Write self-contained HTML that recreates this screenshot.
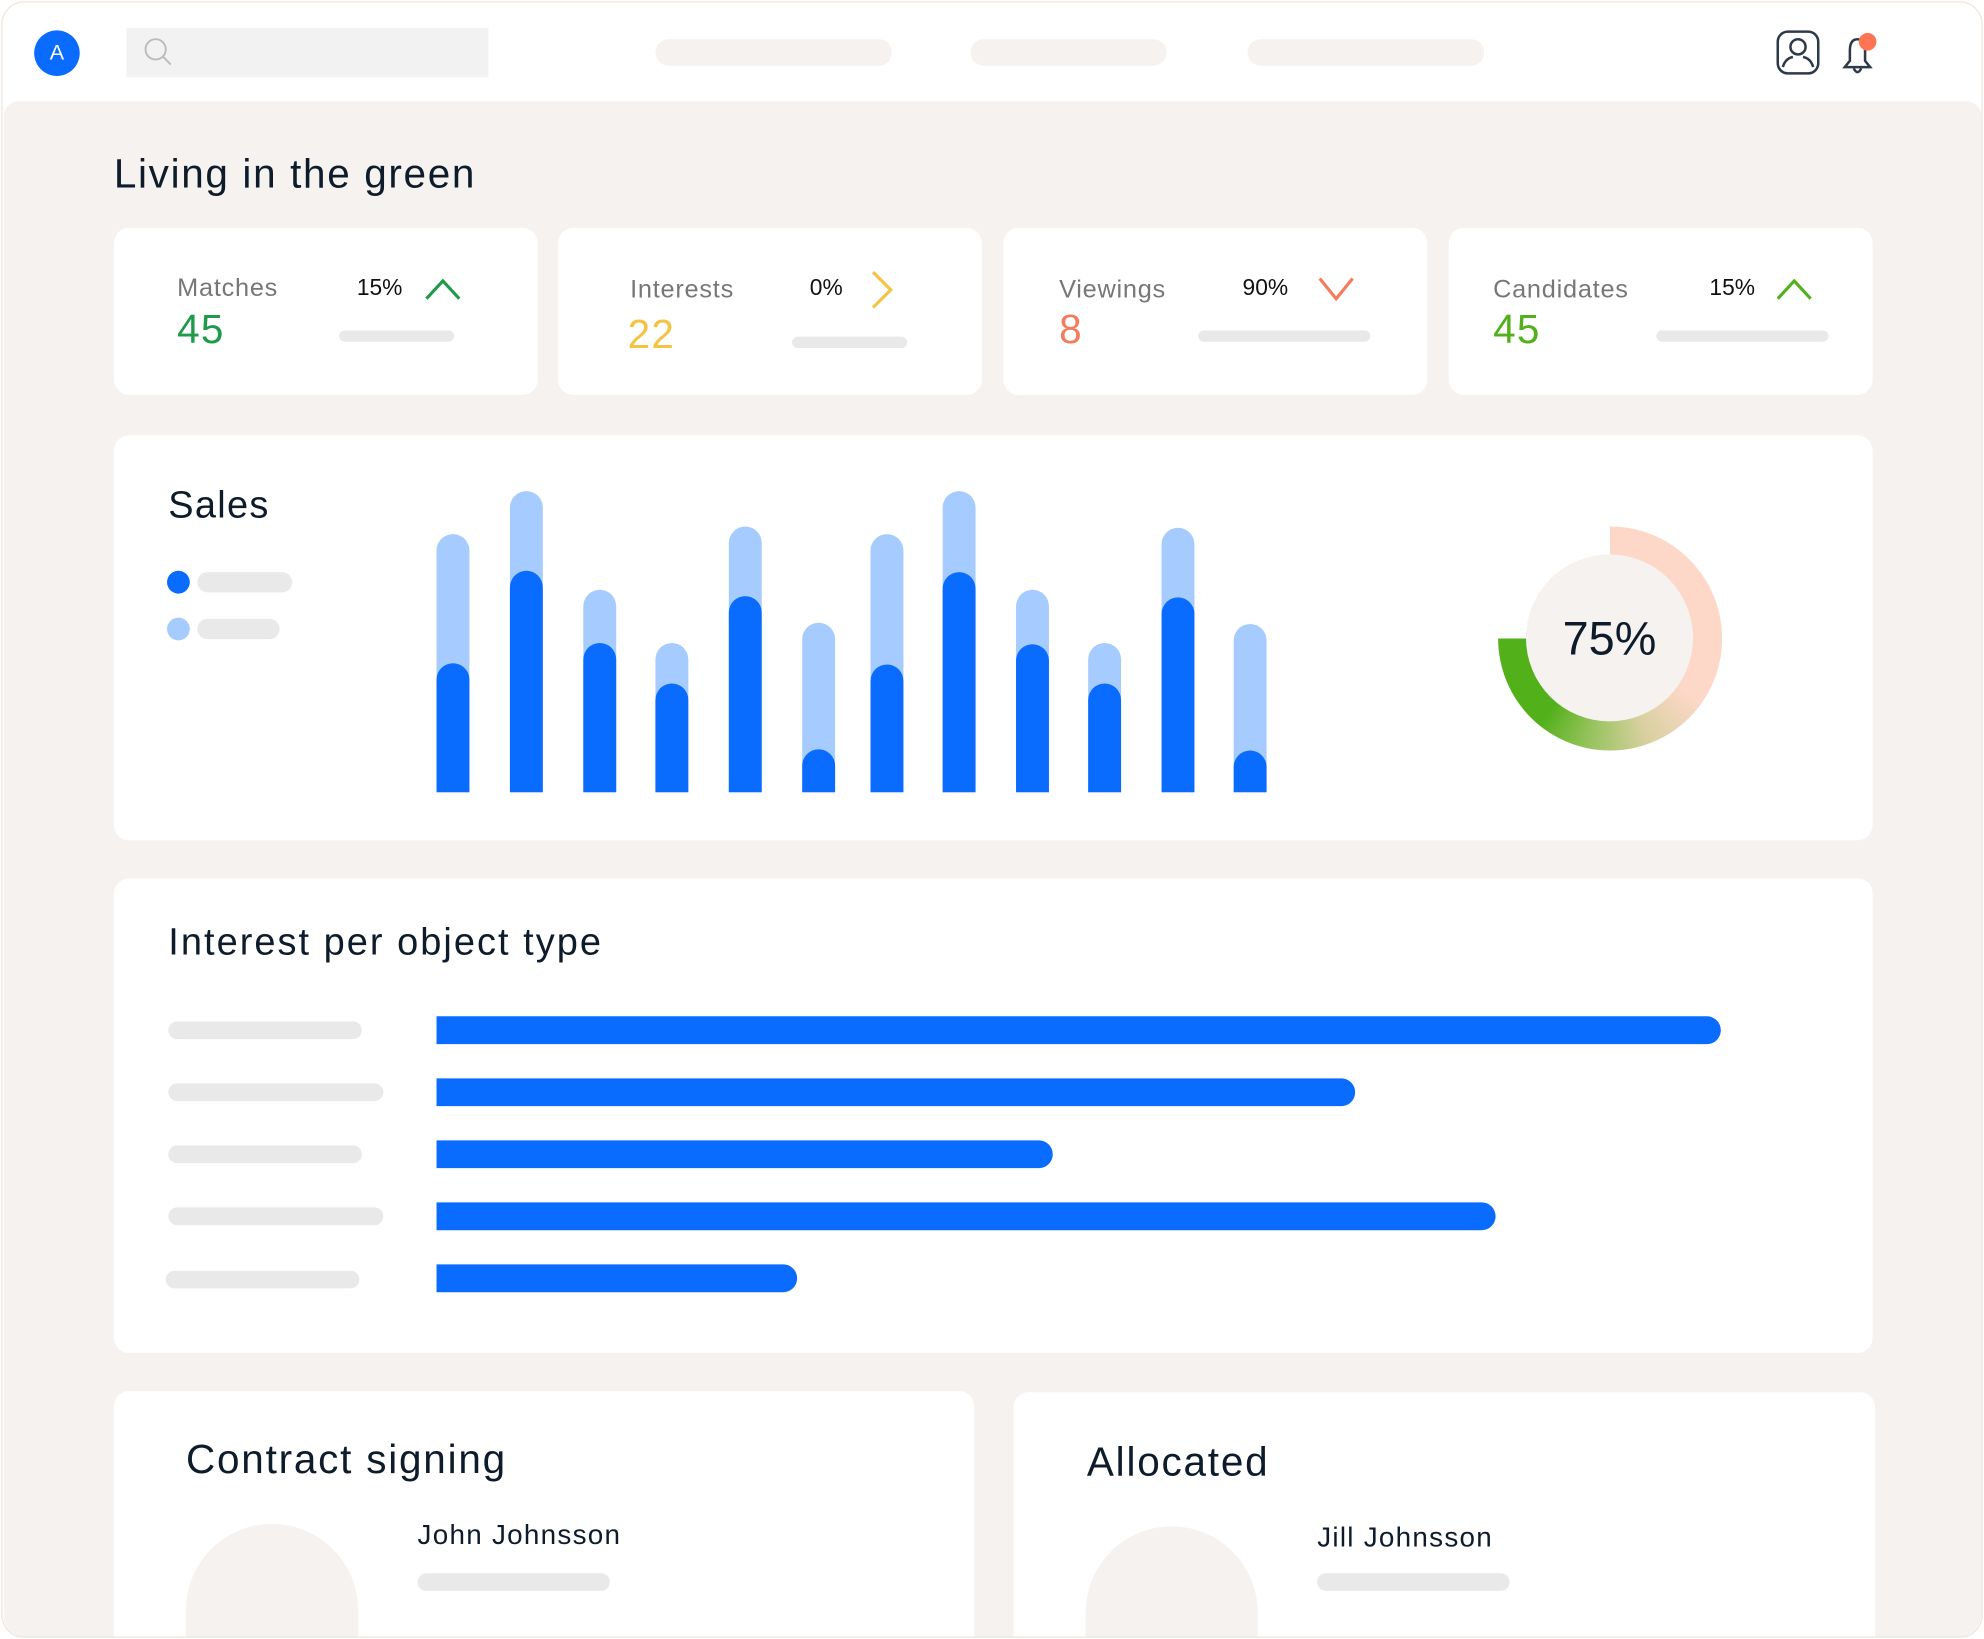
<!DOCTYPE html>
<html><head><meta charset="utf-8"><style>
*{margin:0;padding:0;box-sizing:border-box}
html,body{width:1984px;height:1639px;overflow:hidden;background:#fff;font-family:"Liberation Sans",sans-serif}
#s{position:absolute;left:0;top:0;width:1568px;height:1295px;transform-origin:0 0;transform:scale(1.26531,1.26564)}
#c{position:absolute;left:2px;top:2px;width:1564px;height:1291px;overflow:hidden;border-radius:18px;background:#fff}
#c>*{margin-left:-2px;margin-top:-2px}
.a{position:absolute}
.card{position:absolute;background:#fff;border-radius:12px}
.pill{position:absolute;background:#e9e9e9;border-radius:8px}
.t{position:absolute;white-space:nowrap;line-height:1}
.bar{position:absolute;width:26px;border-radius:13px 13px 0 0}
.lb{background:#a6cbff}.db{background:#0a6cff}
.hb{position:absolute;left:345px;height:22px;background:#0a6cff;border-radius:0 11px 11px 0}
.av{position:absolute;width:136px;height:89px;border-radius:68px 68px 0 0/68px 68px 0 0;background:#f5f2ef}
</style></head><body><div id="s">
<div id="c">
<div class="a" style="left:3px;top:80px;width:1563px;height:1213px;background:#f5f2ef;border-radius:12px 12px 0 0"></div>
<div class="a" style="left:27px;top:24px;width:36px;height:36px;border-radius:50%;background:#0a6cff;color:#fff;font-size:17px;text-align:center;line-height:36px">A</div>
<div class="a" style="left:100px;top:22px;width:286px;height:39px;background:#f2f2f2"></div>
<svg class="a" style="left:112px;top:28px" width="26" height="26"><circle cx="11" cy="11" r="8" fill="none" stroke="#bbb" stroke-width="1.5"/><line x1="17" y1="17" x2="23" y2="23" stroke="#bbb" stroke-width="1.5"/></svg>
<div class="a" style="left:518px;top:31px;width:187px;height:21px;background:#f5f2ef;border-radius:11px"></div>
<div class="a" style="left:767px;top:31px;width:155px;height:21px;background:#f5f2ef;border-radius:11px"></div>
<div class="a" style="left:986px;top:31px;width:187px;height:21px;background:#f5f2ef;border-radius:11px"></div>
<svg class="a" style="left:1400px;top:20px" width="90" height="42">
<rect x="5" y="5" width="32" height="33" rx="8" fill="none" stroke="#2e3a4a" stroke-width="2"/>
<circle cx="21" cy="17" r="6" fill="none" stroke="#2e3a4a" stroke-width="2"/>
<path d="M9 33 Q11 26 17 25 M33 33 Q31 26 25 25" fill="none" stroke="#2e3a4a" stroke-width="2"/>
<path d="M58 33 L62 28 L62 20 Q62 11 68 11 Q74 11 74 20 L74 28 L78 33 Z" fill="none" stroke="#2e3a4a" stroke-width="2"/>
<path d="M65 34 Q68 40 71 34" fill="none" stroke="#2e3a4a" stroke-width="2"/>
<circle cx="76" cy="13" r="7" fill="#ff7553"/></svg>
<div class="t" style="left:90px;top:121px;font-size:32px;color:#0d1b2a;letter-spacing:1.3px">Living in the green</div>

<div class="card" style="left:90px;top:180px;width:335px;height:132px"></div>
<div class="card" style="left:441px;top:180px;width:335px;height:132px"></div>
<div class="card" style="left:793px;top:180px;width:335px;height:132px"></div>
<div class="card" style="left:1145px;top:180px;width:335px;height:132px"></div>
<div class="t" style="left:140px;top:218px;font-size:20px;color:#777;letter-spacing:0.6px">Matches</div>
<div class="t" style="left:282px;top:218px;font-size:18px;color:#111">15%</div>
<svg class="a" style="left:334px;top:216px" width="32" height="24"><path d="M3 20 L16 6 L29 20" fill="none" stroke="#1f9a4a" stroke-width="2.5"/></svg>
<div class="t" style="left:140px;top:244px;font-size:32px;color:#1f9a4a;letter-spacing:1px">45</div>
<div class="pill" style="left:268px;top:261px;width:91px;height:9px"></div>
<div class="t" style="left:498px;top:219px;font-size:20px;color:#777;letter-spacing:0.6px">Interests</div>
<div class="t" style="left:640px;top:218px;font-size:18px;color:#111">0%</div>
<svg class="a" style="left:686px;top:212px" width="24" height="34"><path d="M4 3 L18 17 L4 31" fill="none" stroke="#f5c343" stroke-width="2.5"/></svg>
<div class="t" style="left:496px;top:248px;font-size:32px;color:#f5c343;letter-spacing:1px">22</div>
<div class="pill" style="left:626px;top:266px;width:91px;height:9px"></div>
<div class="t" style="left:837px;top:219px;font-size:20px;color:#777;letter-spacing:0.6px">Viewings</div>
<div class="t" style="left:982px;top:218px;font-size:18px;color:#111">90%</div>
<svg class="a" style="left:1040px;top:216px" width="32" height="24"><path d="M3 4 L16 20 L29 4" fill="none" stroke="#f47c5c" stroke-width="2.5"/></svg>
<div class="t" style="left:837px;top:244px;font-size:32px;color:#f47c5c">8</div>
<div class="pill" style="left:947px;top:261px;width:136px;height:9px"></div>
<div class="t" style="left:1180px;top:219px;font-size:20px;color:#777;letter-spacing:0.6px">Candidates</div>
<div class="t" style="left:1351px;top:218px;font-size:18px;color:#111">15%</div>
<svg class="a" style="left:1402px;top:216px" width="32" height="24"><path d="M3 20 L16 6 L29 20" fill="none" stroke="#52b01a" stroke-width="2.5"/></svg>
<div class="t" style="left:1180px;top:244px;font-size:32px;color:#52b01a;letter-spacing:1px">45</div>
<div class="pill" style="left:1309px;top:261px;width:136px;height:9px"></div>

<div class="card" style="left:90px;top:344px;width:1390px;height:320px"></div>
<div class="t" style="left:133px;top:385px;font-size:30px;color:#0d1b2a;letter-spacing:1px">Sales</div>
<div class="a" style="left:132px;top:451px;width:18px;height:18px;border-radius:50%;background:#0a6cff"></div>
<div class="a" style="left:132px;top:488px;width:18px;height:18px;border-radius:50%;background:#a6cbff"></div>
<div class="pill" style="left:156px;top:452px;width:75px;height:16px"></div>
<div class="pill" style="left:156px;top:489px;width:65px;height:16px"></div>
<div class="bar lb" style="left:345px;top:422px;height:204px"></div><div class="bar db" style="left:345px;top:524px;height:102px"></div>
<div class="bar lb" style="left:403px;top:388px;height:238px"></div><div class="bar db" style="left:403px;top:451px;height:175px"></div>
<div class="bar lb" style="left:461px;top:466px;height:160px"></div><div class="bar db" style="left:461px;top:508px;height:118px"></div>
<div class="bar lb" style="left:518px;top:508px;height:118px"></div><div class="bar db" style="left:518px;top:540px;height:86px"></div>
<div class="bar lb" style="left:576px;top:416px;height:210px"></div><div class="bar db" style="left:576px;top:471px;height:155px"></div>
<div class="bar lb" style="left:634px;top:492px;height:134px"></div><div class="bar db" style="left:634px;top:592px;height:34px"></div>
<div class="bar lb" style="left:688px;top:422px;height:204px"></div><div class="bar db" style="left:688px;top:525px;height:101px"></div>
<div class="bar lb" style="left:745px;top:388px;height:238px"></div><div class="bar db" style="left:745px;top:452px;height:174px"></div>
<div class="bar lb" style="left:803px;top:466px;height:160px"></div><div class="bar db" style="left:803px;top:509px;height:117px"></div>
<div class="bar lb" style="left:860px;top:508px;height:118px"></div><div class="bar db" style="left:860px;top:540px;height:86px"></div>
<div class="bar lb" style="left:918px;top:417px;height:209px"></div><div class="bar db" style="left:918px;top:472px;height:154px"></div>
<div class="bar lb" style="left:975px;top:493px;height:133px"></div><div class="bar db" style="left:975px;top:593px;height:33px"></div>
<div class="a" style="left:1183.5px;top:415.5px;width:177px;height:177px;border-radius:50%;background:conic-gradient(from 0deg,#fdd8c8 0deg,#fdd8c8 125deg,#d8d0a0 160deg,#8fc155 195deg,#52b01a 220deg,#52b01a 270deg,transparent 270deg)"></div>
<div class="a" style="left:1206px;top:438px;width:132px;height:132px;border-radius:50%;background:#f5f2ef"></div>
<div class="t" style="left:1206px;top:486px;width:132px;text-align:center;font-size:37px;color:#0d1b2a">75%</div>

<div class="card" style="left:90px;top:694px;width:1390px;height:375px"></div>
<div class="t" style="left:133px;top:730px;font-size:30px;color:#0d1b2a;letter-spacing:1.6px">Interest per object type</div>
<div class="pill" style="left:133px;top:807px;width:153px;height:14px"></div>
<div class="pill" style="left:133px;top:856px;width:170px;height:14px"></div>
<div class="pill" style="left:133px;top:905px;width:153px;height:14px"></div>
<div class="pill" style="left:133px;top:954px;width:170px;height:14px"></div>
<div class="pill" style="left:131px;top:1004px;width:153px;height:14px"></div>
<div class="hb" style="top:803px;width:1015px"></div>
<div class="hb" style="top:852px;width:726px"></div>
<div class="hb" style="top:901px;width:487px"></div>
<div class="hb" style="top:950px;width:837px"></div>
<div class="hb" style="top:999px;width:285px"></div>

<div class="card" style="left:90px;top:1099px;width:680px;height:194px;border-radius:12px 12px 0 0"></div>
<div class="card" style="left:801px;top:1100px;width:681px;height:193px;border-radius:12px 12px 0 0"></div>
<div class="t" style="left:147px;top:1137px;font-size:32px;color:#0d1b2a;letter-spacing:1.4px">Contract signing</div>
<div class="av" style="left:147px;top:1204px"></div>
<div class="t" style="left:330px;top:1202px;font-size:22px;color:#0d1b2a;letter-spacing:1px">John Johnsson</div>
<div class="pill" style="left:330px;top:1243px;width:152px;height:14px"></div>
<div class="t" style="left:859px;top:1139px;font-size:32px;color:#0d1b2a;letter-spacing:1.4px">Allocated</div>
<div class="av" style="left:858px;top:1206px;height:87px"></div>
<div class="t" style="left:1041px;top:1204px;font-size:22px;color:#0d1b2a;letter-spacing:1px">Jill Johnsson</div>
<div class="pill" style="left:1041px;top:1243px;width:152px;height:14px"></div>
</div>
<div class="a" style="left:1px;top:1px;width:1566px;height:1293px;border:1.5px solid #efe5dd;border-radius:18px"></div>
</div></body></html>
